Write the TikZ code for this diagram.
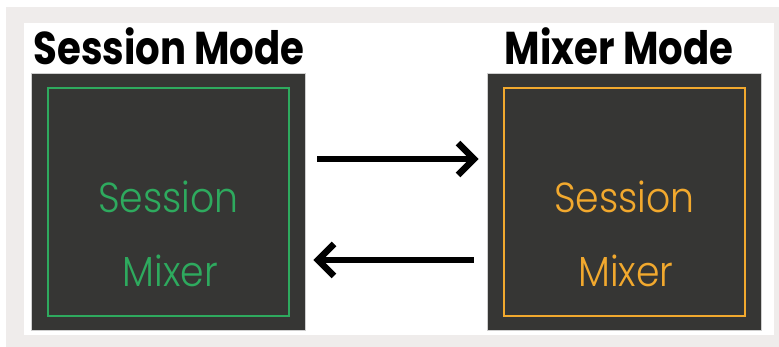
\documentclass[tikz,border=0pt]{standalone}
\usepackage{fontspec}
\usetikzlibrary{arrows.meta}
\newfontfamily\titlefont{Poppins Bold}[FakeStretch=0.84]
\newfontfamily\lightfont{Poppins Light}[FakeStretch=0.9]
\definecolor{bggray}{HTML}{EFECEB}
\definecolor{darkfill}{HTML}{363634}
\definecolor{edgegray}{HTML}{CFCFCF}
\definecolor{sgreen}{HTML}{2EAA5E}
\definecolor{morange}{HTML}{F2A92E}
\tikzset{
  darkbox/.style={draw=edgegray, line width=0.8pt, fill=darkfill, minimum width=274pt, minimum height=257pt, inner sep=0pt},
  framebox/.style={line width=2pt, minimum width=241pt, minimum height=228pt, inner sep=0pt},
  titletext/.style={font=\titlefont\fontsize{46}{52}\selectfont, inner sep=0pt, anchor=base},
  boxtext/.style={font=\lightfont\fontsize{42}{48}\selectfont, inner sep=0pt, anchor=base},
  arr/.style={line width=6.5pt, -{Straight Barb[length=16pt, width=32pt, line width=6.5pt]}}
}
\begin{document}
\begin{tikzpicture}[x=1pt, y=-1pt]
\useasboundingbox (0,0) rectangle (779,347);
\fill[white] (0,0) rectangle (779,347);
\fill[bggray] (6,7) rectangle (779,347);
\fill[white] (24,23) rectangle (774,335);
% titles
\node[titletext] (t1) at (169,65) {Session Mode};
\node[titletext] (t2) at (619,65) {Mixer Mode};
% boxes
\node[darkbox] (L) at (168,201.5) {};
\node[darkbox] (R) at (624,201.5) {};
\node[framebox, draw=sgreen] (Lf) at (168.5,202) {};
\node[framebox, draw=morange] (Rf) at (624,202) {};
\node[boxtext, text=sgreen] (ls) at (168.5,213) {Session};
\node[boxtext, text=sgreen] (lm) at (170.5,287) {Mixer};
\node[boxtext, text=morange] (rs) at (624.5,213) {Session};
\node[boxtext, text=morange] (rm) at (626,287) {Mixer};
% arrows
\coordinate (y1) at (0,159);
\coordinate (y2) at (0,260);
\draw[arr, shorten <=12pt, shorten >=8pt] (L.east |- y1) -- (R.west |- y1);
\draw[arr, shorten <=13pt, shorten >=8pt] (R.west |- y2) -- (L.east |- y2);
\end{tikzpicture}
\end{document}
